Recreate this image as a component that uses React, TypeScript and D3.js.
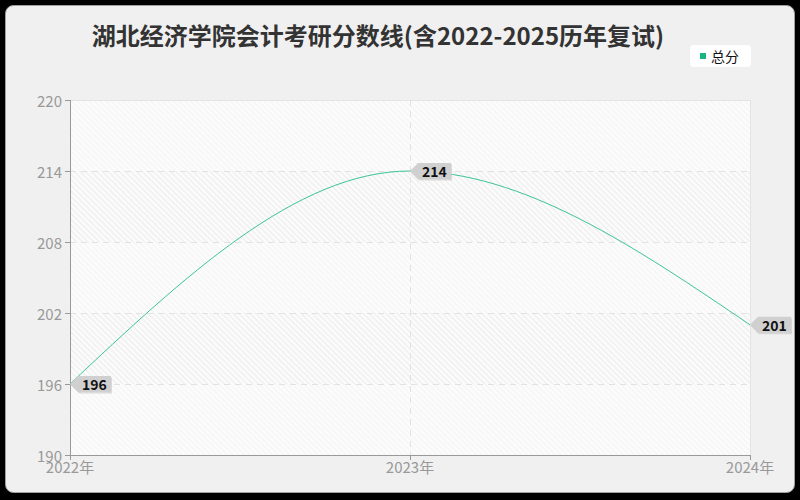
import React from "react";
import * as d3 from "d3";

const years = ["2022年", "2023年", "2024年"];
const scores = [196, 214, 201];
const yTicks = [190, 196, 202, 208, 214, 220];
const title = "湖北经济学院会计考研分数线(含2022-2025历年复试)";
const seriesName = "总分";

const FONT = "'Noto Sans CJK SC', 'Noto Sans', sans-serif";

export default function App() {
  const width = 800;
  const height = 500;
  const margin = { top: 100, right: 50, bottom: 45, left: 70 };
  const innerW = width - margin.left - margin.right;
  const innerH = height - margin.top - margin.bottom;

  const x = d3
    .scalePoint<string>()
    .domain(years)
    .range([margin.left, margin.left + innerW]);

  const y = d3
    .scaleLinear()
    .domain([190, 220])
    .range([margin.top + innerH, margin.top]);

  const points = years.map((yr, i) => [x(yr) as number, y(scores[i])] as [number, number]);

  const line = d3
    .line<[number, number]>()
    .x((d) => d[0])
    .y((d) => d[1])
    .curve(d3.curveMonotoneX);

  // alternate bands between ticks
  const bands = yTicks.slice(0, -1).map((t, i) => ({
    lo: t,
    hi: yTicks[i + 1],
    strong: i % 2 === 1,
  }));

  const x0 = margin.left;
  const x1 = margin.left + innerW;
  const yBottom = margin.top + innerH;

  return (
    <svg
      width={width}
      height={height}
      style={{ position: "absolute", left: 0, top: 0, fontFamily: FONT }}
    >
      <defs>
        <pattern id="hatchFaint" width="4" height="4" patternUnits="userSpaceOnUse" patternTransform="rotate(45)">
          <rect width="4" height="4" fill="#fcfcfc" />
          <rect width="4" height="1.3" fill="#f5f5f5" />
        </pattern>
        <pattern id="hatchStrong" width="4" height="4" patternUnits="userSpaceOnUse" patternTransform="rotate(45)">
          <rect width="4" height="4" fill="#fcfcfc" />
          <rect width="4" height="1.5" fill="#efefef" />
        </pattern>
      </defs>

      <rect x={0} y={0} width={width} height={height} fill="#000" />
      <rect x={5.5} y={5.5} width={789} height={487} rx={8} fill="#f0f0f0" stroke="#a0a0a0" strokeWidth={1} />

      {/* title */}
      <text x={378} y={45} textAnchor="middle" fontSize={24} fontWeight="bold" fill="#333">
        {title}
      </text>

      {/* legend */}
      <rect x={690} y={45} width={61} height={22} rx={4} fill="#fff" />
      <rect x={700} y={53} width={6} height={6} fill="#1ab483" />
      <text x={711} y={56} fontSize={14} fill="#111" dominantBaseline="central">
        {seriesName}
      </text>

      {/* plot background bands */}
      {bands.map((b, i) => (
        <rect
          key={i}
          x={x0}
          y={y(b.hi)}
          width={innerW}
          height={y(b.lo) - y(b.hi)}
          fill={b.strong ? "url(#hatchStrong)" : "url(#hatchFaint)"}
        />
      ))}

      {/* plot border top & right */}
      <line x1={x0} x2={x1} y1={y(220) + 0.5} y2={y(220) + 0.5} stroke="#e4e4e4" />
      <line x1={x1 + 0.5} x2={x1 + 0.5} y1={margin.top} y2={yBottom} stroke="#e4e4e4" />

      {/* grid */}
      {yTicks.slice(1, -1).map((t) => (
        <line
          key={t}
          x1={x0}
          x2={x1}
          y1={Math.round(y(t)) + 0.5}
          y2={Math.round(y(t)) + 0.5}
          stroke="#e2e2e2"
          strokeDasharray="6,5"
        />
      ))}
      <line
        x1={(x(years[1]) as number) + 0.5}
        x2={(x(years[1]) as number) + 0.5}
        y1={margin.top}
        y2={yBottom}
        stroke="#e2e2e2"
        strokeDasharray="6,5"
      />

      {/* axes */}
      <line x1={x0 + 0.5} x2={x0 + 0.5} y1={margin.top} y2={yBottom} stroke="#999" />
      <line x1={x0} x2={x1 + 1} y1={yBottom + 0.5} y2={yBottom + 0.5} stroke="#999" />
      {yTicks.map((t) => (
        <g key={t}>
          <line x1={x0 - 5} x2={x0} y1={Math.round(y(t)) + 0.5} y2={Math.round(y(t)) + 0.5} stroke="#999" />
          <text x={x0 - 8} y={y(t)} textAnchor="end" dominantBaseline="central" fontSize={15} fill="#999">
            {t}
          </text>
        </g>
      ))}
      {years.map((yr) => (
        <g key={yr}>
          <line
            x1={(x(yr) as number) + 0.5}
            x2={(x(yr) as number) + 0.5}
            y1={yBottom}
            y2={yBottom + 5}
            stroke="#999"
          />
          <text x={x(yr) as number} y={yBottom + 18} textAnchor="middle" fontSize={15} fill="#999">
            {yr}
          </text>
        </g>
      ))}

      {/* series line */}
      <path d={line(points) || ""} fill="none" stroke="#3cc593" strokeWidth={1} />

      {/* value labels */}
      {points.map(([px, py], i) => {
        const w = 33;
        const h = 16;
        const shape = [
          [px, py],
          [px + 8, py - h / 2],
          [px + 8 + w, py - h / 2],
          [px + 8 + w, py + h / 2],
          [px + 8, py + h / 2],
        ]
          .map((p) => p.join(","))
          .join(" ");
        return (
          <g key={i}>
            <polygon points={shape} fill="#bbb" opacity={0.5} transform="translate(1,1.5)" />
            <polygon points={shape} fill="#d0d0d0" />
            <text
              x={px + 12}
              y={py}
              dominantBaseline="central"
              fontSize={14}
              fontWeight="bold"
              fill="#111"
            >
              {scores[i]}
            </text>
          </g>
        );
      })}
    </svg>
  );
}
